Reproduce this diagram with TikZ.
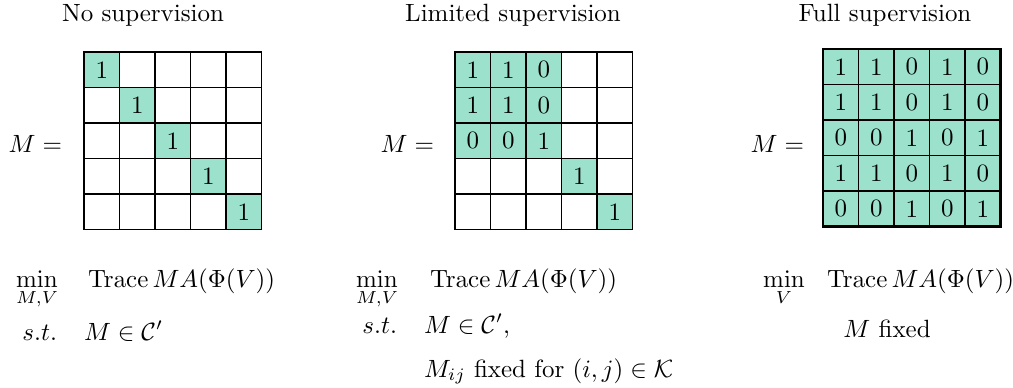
\documentclass[tikz,border=0pt]{standalone}
\usepackage{amsmath}
\definecolor{mint}{RGB}{155,225,203}
\begin{document}
\begin{tikzpicture}[x=0.014085cm,y=-0.014085cm,
  celle/.style={draw=black,line width=0.5pt,minimum size=0.5cm,inner sep=0pt,outer sep=0pt,anchor=center},
  cellf/.style={celle,fill=mint},
  txt/.style={inner sep=0pt,outer sep=0pt},
  ttl/.style={txt,anchor=base}]
\useasboundingbox (0,0) rectangle (1013,387);
% titles
\node[ttl] (t1) at (143,21) {No supervision};
\node[ttl] (t2) at (513,21) {Limited supervision};
\node[ttl] (t3) at (885,21) {Full supervision};
% M =
\node[txt,anchor=base east] (m1) at (62,152) {$M =$};
\node[txt,anchor=base east] (m2) at (434,152) {$M =$};
\node[txt,anchor=base east] (m3) at (804,152) {$M =$};
% panel 1
\foreach \r in {1,...,5}{\foreach \c in {1,...,5}{%
  \ifnum\r=\c\relax
    \node[cellf] (a-\r-\c) at ({84+35.5*(\c-0.5)},{52+35.5*(\r-0.5)}) {1};
  \else
    \node[celle] (a-\r-\c) at ({84+35.5*(\c-0.5)},{52+35.5*(\r-0.5)}) {};
  \fi}}
% panel 2
\foreach \r/\c/\s/\v in {1/1/f/1,1/2/f/1,1/3/f/0,1/4/e/,1/5/e/,
  2/1/f/1,2/2/f/1,2/3/f/0,2/4/e/,2/5/e/,
  3/1/f/0,3/2/f/0,3/3/f/1,3/4/e/,3/5/e/,
  4/1/e/,4/2/e/,4/3/e/,4/4/f/1,4/5/e/,
  5/1/e/,5/2/e/,5/3/e/,5/4/e/,5/5/f/1}
  \node[cell\s] (b-\r-\c) at ({455+35.5*(\c-0.5)},{52+35.5*(\r-0.5)}) {\v};
% panel 3
\foreach \r/\row in {1/{1,1,0,1,0},2/{1,1,0,1,0},3/{0,0,1,0,1},4/{1,1,0,1,0},5/{0,0,1,0,1}}
  \foreach \v [count=\c] in \row
    \node[cellf] (c-\r-\c) at ({823+35.5*(\c-0.5)},{49+35.5*(\r-0.5)}) {\v};
\draw[line width=1pt] (c-1-1.north west) rectangle (c-5-5.south east);
% formulas panel 1
\node[txt,anchor=base] (min1) at (37,287) {$\displaystyle\min_{M,V}$};
\node[txt,anchor=base west] (obj1) at (88,287) {$\mathrm{Trace}\, MA(\Phi(V))$};
\node[txt,anchor=base east] (st1) at (57,340) {$s.t.$};
\node[txt,anchor=base west] (con1) at (84,340) {$M \in \mathcal{C}'$};
% formulas panel 2
\node[txt,anchor=base] (min2) at (377,287) {$\displaystyle\min_{M,V}$};
\node[txt,anchor=base west] (obj2) at (430,287) {$\mathrm{Trace}\, MA(\Phi(V))$};
\node[txt,anchor=base east] (st2) at (397,333) {$s.t.$};
\node[txt,anchor=base west] (con2) at (424,333) {$M \in \mathcal{C}'$,};
\node[txt,anchor=base west] (k2) at (424,377) {$M_{ij}$ fixed for $(i,j)\in\mathcal{K}$};
% formulas panel 3
\node[txt,anchor=base] (min3) at (784,287) {$\displaystyle\min_{V}$};
\node[txt,anchor=base west] (obj3) at (827,287) {$\mathrm{Trace}\, MA(\Phi(V))$};
\node[txt,anchor=base] (fix3) at (887,337) {$M$ fixed};
\end{tikzpicture}
\end{document}
